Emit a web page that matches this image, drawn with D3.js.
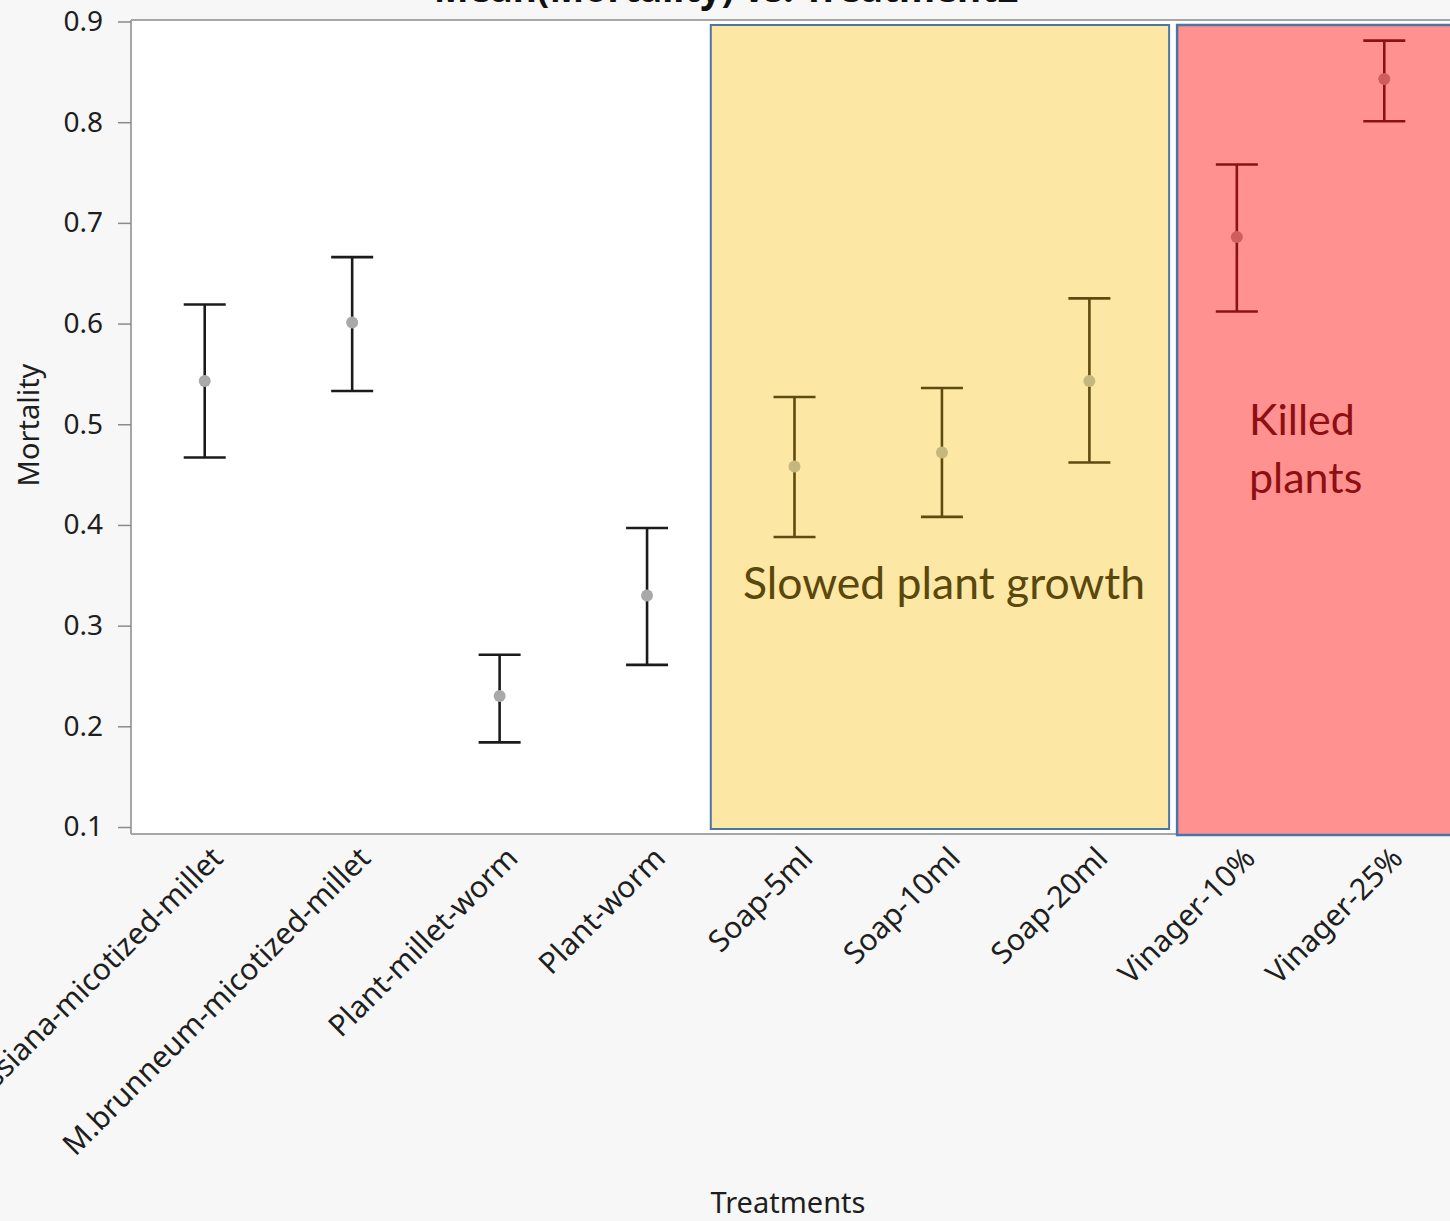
<!DOCTYPE html>
<html><head><meta charset="utf-8">
<script src="https://cdn.jsdelivr.net/npm/d3@7"></script>
<style>
html,body{margin:0;padding:0;background:#f7f7f7;overflow:hidden;}
svg{display:block;}
</style></head>
<body>
<script>
const categories = ["B.bassiana-micotized-millet","M.brunneum-micotized-millet","Plant-millet-worm","Plant-worm","Soap-5ml","Soap-10ml","Soap-20ml","Vinager-10%","Vinager-25%"];
const means = [0.543,0.601,0.230,0.330,0.458,0.472,0.543,0.686,0.843];
const upper = [0.619,0.666,0.271,0.397,0.527,0.536,0.625,0.758,0.881];
const lower = [0.467,0.533,0.184,0.261,0.388,0.408,0.462,0.612,0.801];
const groups = ["none","none","none","none","soap","soap","soap","vinegar","vinegar"];
const yTicks = [0.1,0.2,0.3,0.4,0.5,0.6,0.7,0.8,0.9];
const titleText = "Mean(Mortality) vs. Treatment2";
const xTitle = "Treatments";
const yTitle = "Mortality";
const soapNote = "Slowed plant growth";
const vinegarNote = ["Killed","plants"];

(function(){
const W = 1450, H = 1221;
const svg = d3.select("body").append("svg").attr("width", W).attr("height", H);

const pL = 131, pR = 1458, pT = 20, pB = 834;
const x = d3.scaleBand().domain(categories).range([pL, pR]);
const y = d3.scaleLinear().domain([0.1, 0.9]).range([827, 21.5]);

const colors = {
  none: {bar: "#1b1b1b", pt: "#a9a9a9"},
  soap: {bar: "#5e4b10", pt: "#c6b77c"},
  vinegar: {bar: "#8a1217", pt: "#cf5c5e"}
};

svg.append("rect").attr("x", pL).attr("y", pT).attr("width", pR - pL).attr("height", pB - pT)
  .attr("fill", "#ffffff");

svg.append("line").attr("x1", pL).attr("x2", W).attr("y1", pT).attr("y2", pT).attr("stroke", "#a6a6a6").attr("stroke-width", 2);
svg.append("line").attr("x1", pL).attr("x2", W).attr("y1", pB).attr("y2", pB).attr("stroke", "#a6a6a6").attr("stroke-width", 2);

const soapCats = categories.filter((c, i) => groups[i] === "soap");
const vinCats = categories.filter((c, i) => groups[i] === "vinegar");
const soapX0 = x(soapCats[0]) - 10, soapX1 = x(soapCats[soapCats.length - 1]) + x.bandwidth() + 6;
svg.append("rect").attr("x", soapX0).attr("y", 25).attr("width", soapX1 - soapX0).attr("height", 829 - 25)
  .attr("fill", "#fde7a4").attr("stroke", "#4a75a6").attr("stroke-width", 2);
const vinX0 = x(vinCats[0]) + 14;
svg.append("rect").attr("x", vinX0).attr("y", 25).attr("width", W + 10 - vinX0).attr("height", 835 - 25)
  .attr("fill", "#ff9190").attr("stroke", "#4a75a6").attr("stroke-width", 2.5);

const yAxis = svg.append("g").attr("transform", `translate(${pL},0)`)
  .call(d3.axisLeft(y).tickValues(yTicks).tickFormat(d3.format(".1f")).tickSize(13).tickPadding(14));
yAxis.select(".domain").attr("stroke", "#a6a6a6").attr("stroke-width", 2).attr("d", `M0,${pT}V${pB}`);
yAxis.selectAll(".tick line").attr("stroke", "#8a8a8a").attr("stroke-width", 1.5);
yAxis.selectAll(".tick text").attr("font-family", "'Noto Sans', sans-serif").attr("font-size", 28)
  .attr("fill", "#1e1e1e").attr("x", -28);

const xAxis = svg.append("g").attr("transform", `translate(0,${pB})`)
  .call(d3.axisBottom(x).tickSize(0).tickPadding(0));
xAxis.select(".domain").remove();
xAxis.selectAll(".tick text")
  .attr("font-family", "'Noto Sans', sans-serif").attr("font-size", 30).attr("fill", "#1e1e1e")
  .attr("text-anchor", "end").attr("dy", 0).attr("y", 0)
  .attr("transform", "translate(20,26) rotate(-45)");

const cap = 21;
const g = svg.append("g");
categories.forEach((c, i) => {
  const cx = x(c) + x.bandwidth() / 2;
  const col = colors[groups[i]];
  g.append("line").attr("x1", cx).attr("x2", cx).attr("y1", y(upper[i])).attr("y2", y(lower[i]))
    .attr("stroke", col.bar).attr("stroke-width", 2.6);
  g.append("line").attr("x1", cx - cap).attr("x2", cx + cap).attr("y1", y(upper[i])).attr("y2", y(upper[i]))
    .attr("stroke", col.bar).attr("stroke-width", 2.6);
  g.append("line").attr("x1", cx - cap).attr("x2", cx + cap).attr("y1", y(lower[i])).attr("y2", y(lower[i]))
    .attr("stroke", col.bar).attr("stroke-width", 2.6);
  g.append("circle").attr("cx", cx).attr("cy", y(means[i])).attr("r", 6).attr("fill", col.pt);
});

svg.append("text").attr("x", 743).attr("y", 599).text(soapNote)
  .attr("font-family", "Lato, 'Open Sans', sans-serif").attr("font-size", 44.5).attr("fill", "#5a470b");
vinegarNote.forEach((t, i) => {
  svg.append("text").attr("x", 1249).attr("y", 435 + i * 58).text(t)
    .attr("font-family", "Lato, 'Open Sans', sans-serif").attr("font-size", 43).attr("fill", "#8e0f12");
});

svg.append("text").attr("transform", "translate(39,425) rotate(-90)").attr("text-anchor", "middle")
  .attr("font-family", "'Noto Sans', sans-serif").attr("font-size", 29).attr("fill", "#1e1e1e").text(yTitle);
svg.append("text").attr("x", 788).attr("y", 1213).attr("text-anchor", "middle")
  .attr("font-family", "'Noto Sans', sans-serif").attr("font-size", 29).attr("fill", "#1e1e1e").text(xTitle);

svg.append("text").attr("x", 726).attr("y", 2).attr("text-anchor", "middle")
  .attr("font-family", "'Noto Sans', sans-serif").attr("font-weight", "bold").attr("font-size", 37)
  .attr("fill", "#111").text(titleText);
})();
</script>
</body></html>
